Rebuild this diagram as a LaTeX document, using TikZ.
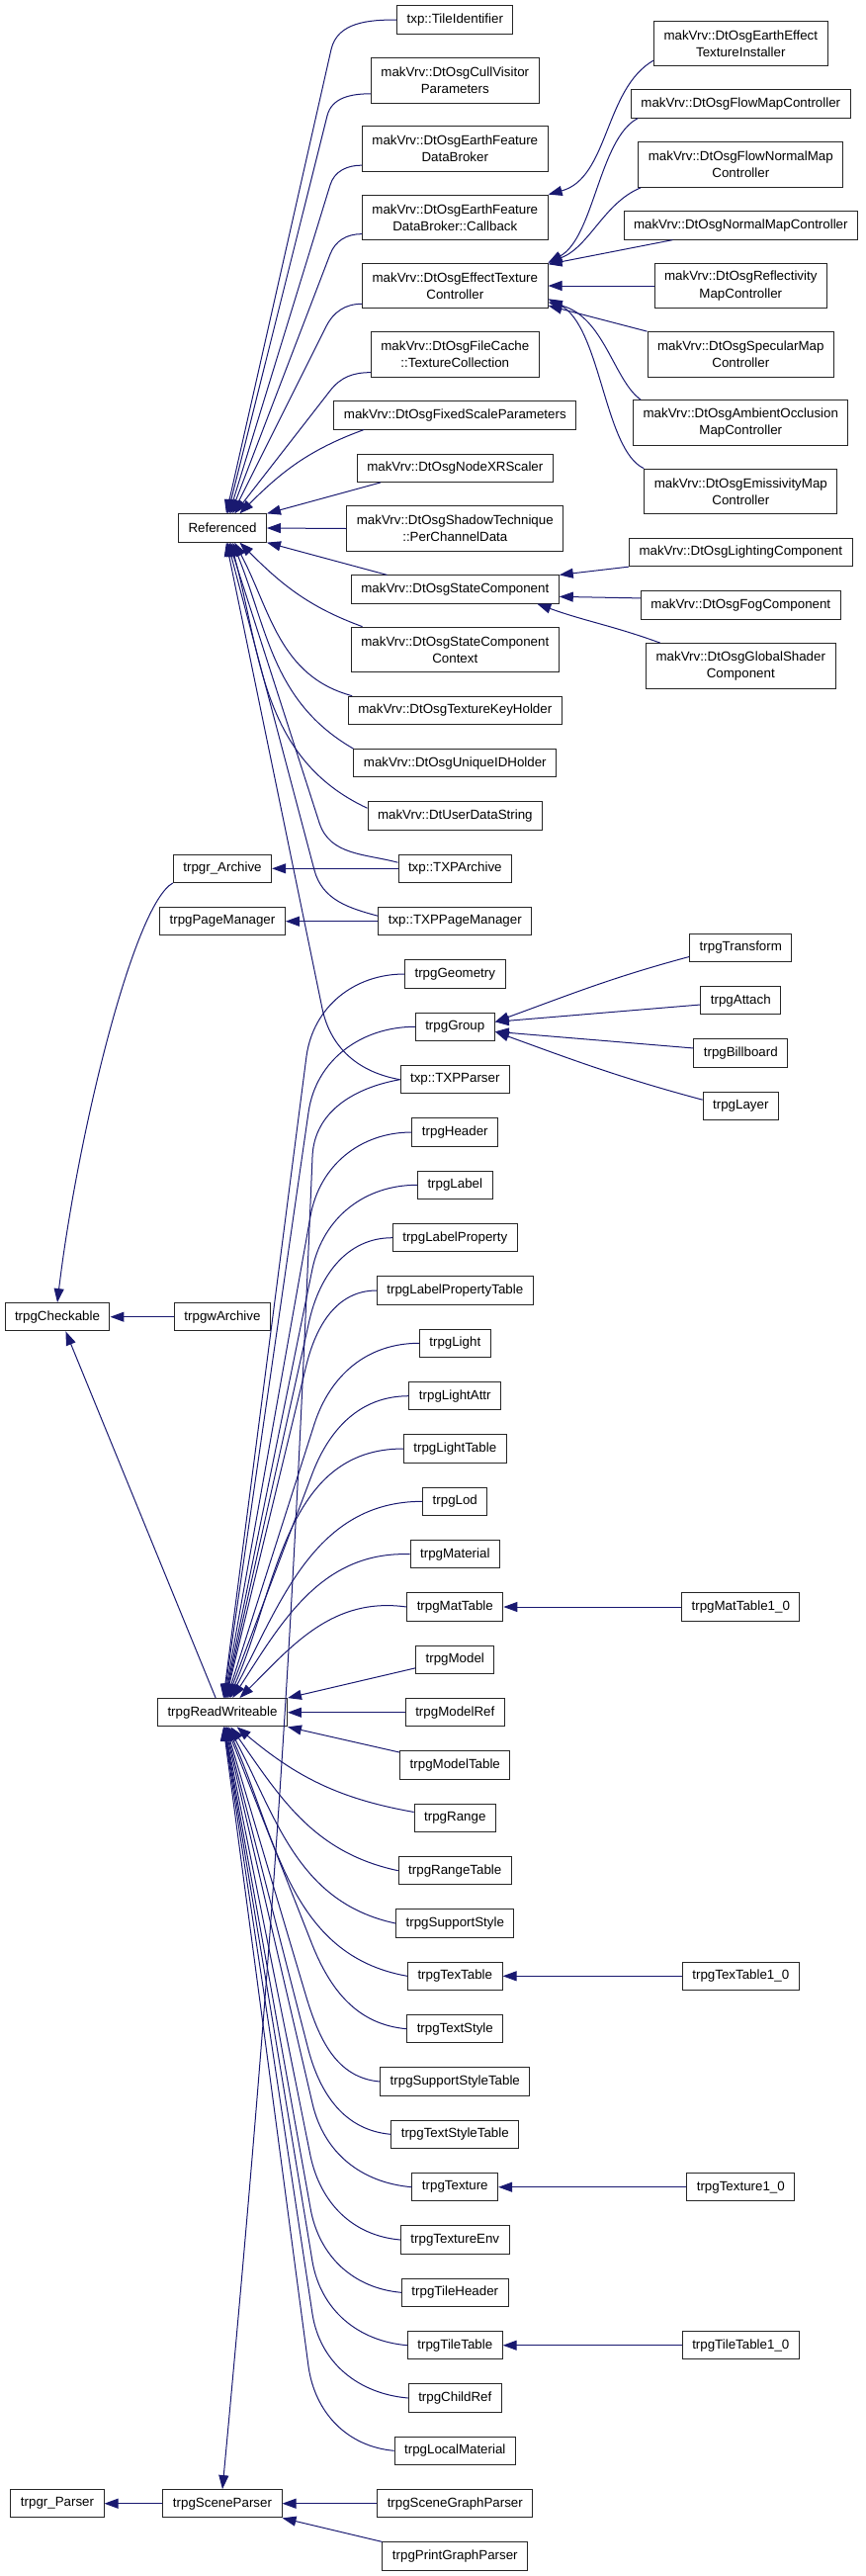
\documentclass[tikz,border=0pt]{standalone}
\usepackage{fontspec}
\setmainfont{Liberation Sans}
\usetikzlibrary{arrows.meta}
\definecolor{edgeblue}{RGB}{25,25,112}
\tikzstyle{classbox} = [rectangle, draw=black!85, line width=0.75pt, fill=white, minimum height=21.2pt, inner xsep=7.5pt, inner ysep=2pt, align=center, font=\fontsize{10}{13}\selectfont]
\tikzstyle{classbox2} = [classbox, minimum height=34.3pt]
\tikzstyle{inherit} = [draw=edgeblue, line width=0.75pt, -{Triangle[length=10.5pt, width=7.5pt]}]

\begin{document}
\begin{tikzpicture}[x=0.75pt, y=-0.75pt]
        \useasboundingbox (0,0) rectangle (875,2605);

        \node (checkable) [classbox] at (58,1331.7) {trpgCheckable};
        \node (rparser) [classbox] at (58,2531.7) {trpgr\_Parser};

        \node (referenced) [classbox] at (225,534) {Referenced};
        \node (rarchive) [classbox] at (225,878.3) {trpgr\_Archive};
        \node (pagemgr) [classbox] at (225,931.7) {trpgPageManager};
        \node (warchive) [classbox] at (225,1331.7) {trpgwArchive};
        \node (readwrite) [classbox] at (225,1731.7) {trpgReadWriteable};
        \node (sceneparser) [classbox] at (225,2531.7) {trpgSceneParser};

        \node (tileid) [classbox] at (460.3,20) {txp::TileIdentifier};
        \node (cullvis) [classbox2] at (460.3,81.3) {makVrv::DtOsgCullVisitor\\Parameters};
        \node (databroker) [classbox2] at (460.3,150.5) {makVrv::DtOsgEarthFeature\\DataBroker};
        \node (callback) [classbox2] at (460.3,220) {makVrv::DtOsgEarthFeature\\DataBroker::Callback};
        \node (effect) [classbox2] at (460.3,289) {makVrv::DtOsgEffectTexture\\Controller};
        \node (filecache) [classbox2] at (460.3,358.5) {makVrv::DtOsgFileCache\\::TextureCollection};
        \node (fixedscale) [classbox] at (460.3,420) {makVrv::DtOsgFixedScaleParameters};
        \node (nodexr) [classbox] at (460.3,473.3) {makVrv::DtOsgNodeXRScaler};
        \node (shadow) [classbox2] at (460.3,534.5) {makVrv::DtOsgShadowTechnique\\::PerChannelData};
        \node (statecomp) [classbox] at (460.3,596) {makVrv::DtOsgStateComponent};
        \node (statectx) [classbox2] at (460.3,657) {makVrv::DtOsgStateComponent\\Context};
        \node (texkey) [classbox] at (460.3,718.3) {makVrv::DtOsgTextureKeyHolder};
        \node (uniqueid) [classbox] at (460.3,771.7) {makVrv::DtOsgUniqueIDHolder};
        \node (userdata) [classbox] at (460.3,825) {makVrv::DtUserDataString};
        \node (txparchive) [classbox] at (460.3,878.3) {txp::TXPArchive};
        \node (txppagemgr) [classbox] at (460.3,931.7) {txp::TXPPageManager};
        \node (geometry) [classbox] at (460.3,985) {trpgGeometry};
        \node (group) [classbox] at (460.3,1038.3) {trpgGroup};
        \node (txpparser) [classbox] at (460.3,1091.7) {txp::TXPParser};
        \node (header) [classbox] at (460.3,1145) {trpgHeader};
        \node (label) [classbox] at (460.3,1198.3) {trpgLabel};
        \node (labelprop) [classbox] at (460.3,1251.7) {trpgLabelProperty};
        \node (labelproptab) [classbox] at (460.3,1305) {trpgLabelPropertyTable};
        \node (light) [classbox] at (460.3,1358.3) {trpgLight};
        \node (lightattr) [classbox] at (460.3,1411.7) {trpgLightAttr};
        \node (lighttab) [classbox] at (460.3,1465) {trpgLightTable};
        \node (lod) [classbox] at (460.3,1518.3) {trpgLod};
        \node (material) [classbox] at (460.3,1571.7) {trpgMaterial};
        \node (mattab) [classbox] at (460.3,1625) {trpgMatTable};
        \node (model) [classbox] at (460.3,1678.3) {trpgModel};
        \node (modelref) [classbox] at (460.3,1731.7) {trpgModelRef};
        \node (modeltab) [classbox] at (460.3,1785) {trpgModelTable};
        \node (range) [classbox] at (460.3,1838.3) {trpgRange};
        \node (rangetab) [classbox] at (460.3,1891.7) {trpgRangeTable};
        \node (supstyle) [classbox] at (460.3,1945) {trpgSupportStyle};
        \node (textab) [classbox] at (460.3,1998.3) {trpgTexTable};
        \node (textstyle) [classbox] at (460.3,2051.7) {trpgTextStyle};
        \node (supstyletab) [classbox] at (460.3,2105) {trpgSupportStyleTable};
        \node (textstyletab) [classbox] at (460.3,2158.3) {trpgTextStyleTable};
        \node (texture) [classbox] at (460.3,2211.7) {trpgTexture};
        \node (textureenv) [classbox] at (460.3,2265) {trpgTextureEnv};
        \node (tileheader) [classbox] at (460.3,2318.3) {trpgTileHeader};
        \node (tiletab) [classbox] at (460.3,2371.7) {trpgTileTable};
        \node (childref) [classbox] at (460.3,2425) {trpgChildRef};
        \node (localmat) [classbox] at (460.3,2478.3) {trpgLocalMaterial};
        \node (scenegraph) [classbox] at (460.3,2531.7) {trpgSceneGraphParser};
        \node (printgraph) [classbox] at (460.3,2585) {trpgPrintGraphParser};

        \node (installer) [classbox2] at (749.3,44) {makVrv::DtOsgEarthEffect\\TextureInstaller};
        \node (flowmap) [classbox] at (749.3,105) {makVrv::DtOsgFlowMapController};
        \node (flownormal) [classbox2] at (749.3,166.5) {makVrv::DtOsgFlowNormalMap\\Controller};
        \node (normalmap) [classbox] at (749.3,228) {makVrv::DtOsgNormalMapController};
        \node (reflect) [classbox2] at (749.3,289) {makVrv::DtOsgReflectivity\\MapController};
        \node (specular) [classbox2] at (749.3,358.5) {makVrv::DtOsgSpecularMap\\Controller};
        \node (ambient) [classbox2] at (749.3,427.5) {makVrv::DtOsgAmbientOcclusion\\MapController};
        \node (emissive) [classbox2] at (749.3,497) {makVrv::DtOsgEmissivityMap\\Controller};
        \node (lighting) [classbox] at (749.3,558.5) {makVrv::DtOsgLightingComponent};
        \node (fog) [classbox] at (749.3,612) {makVrv::DtOsgFogComponent};
        \node (globalshader) [classbox2] at (749.3,673.5) {makVrv::DtOsgGlobalShader\\Component};
        \node (transform) [classbox] at (749.3,958.3) {trpgTransform};
        \node (attach) [classbox] at (749.3,1011.7) {trpgAttach};
        \node (billboard) [classbox] at (749.3,1065) {trpgBillboard};
        \node (layer) [classbox] at (749.3,1118.3) {trpgLayer};
        \node (mattab10) [classbox] at (749.3,1625) {trpgMatTable1\_0};
        \node (textab10) [classbox] at (749.3,1998.3) {trpgTexTable1\_0};
        \node (texture10) [classbox] at (749.3,2211.7) {trpgTexture1\_0};
        \node (tiletab10) [classbox] at (749.3,2371.7) {trpgTileTable1\_0};

        \draw[inherit] (tileid.west) to[out=180,in=77] (335,50) -- (referenced.75);
        \draw[inherit] (cullvis.189) to[out=180,in=76] (331,117) -- (referenced.70);
        \draw[inherit] (databroker.190) to[out=180,in=73] (334,187) -- (referenced.65);
        \draw[inherit] (callback.190) to[out=180,in=69] (334,257) -- (referenced.60);
        \draw[inherit] (effect.191) to[out=180,in=63] (330,330) -- (referenced.55);
        \draw[inherit] (filecache.192) to[out=180,in=52] (334,395) -- (referenced.50);
        \draw[inherit] (fixedscale.189) to[out=200,in=45] (referenced.40);
        \draw[inherit] (nodexr.191) -- (referenced.north east);
        \draw[inherit] (shadow.west) -- (referenced.east);
        \draw[inherit] (statecomp.168) -- (referenced.south east);
        \draw[inherit] (statectx.166) to[out=160,in=-45] (referenced.-40);
        \draw[inherit] (texkey.172) to[out=165,in=-62] (referenced.-50);
        \draw[inherit] (uniqueid.north west) to[out=150,in=-68] (referenced.-55);
        \draw[inherit] (userdata.175) to[out=155,in=-75] (referenced.-60);
        \draw[inherit] (txparchive.174) to[out=165,in=-72] (323,832) -- (referenced.-65);
        \draw[inherit] (txppagemgr.176) to[out=165,in=-75] (318,880) -- (referenced.-70);
        \draw[inherit] (txpparser.west) to[out=170,in=-78] (326,1020) -- (referenced.-75);

        \draw[inherit] (installer.191) .. controls (611,90) and (616,180) .. (callback.north east);
        \draw[inherit] (flowmap.188) .. controls (606,140) and (601,240) .. (effect.north east);
        \draw[inherit] (flownormal.193) .. controls (611,205) and (596,250) .. (effect.north east);
        \draw[inherit] (normalmap.192) -- (effect.13);
        \draw[inherit] (reflect.west) -- (effect.east);
        \draw[inherit] (specular.north west) -- (effect.-12);
        \draw[inherit] (ambient.167) .. controls (621,385) and (611,320) .. (effect.-10);
        \draw[inherit] (emissive.north west) .. controls (611,455) and (608,330) .. (effect.-8);

        \draw[inherit] (lighting.south west) -- (statecomp.north east);
        \draw[inherit] (fog.176) -- (statecomp.-4);
        \draw[inherit] (globalshader.164) to[out=160,in=-20] (statecomp.-10);

        \draw[inherit] (txparchive.west) -- (rarchive.east);
        \draw[inherit] (txppagemgr.west) -- (pagemgr.east);
        \draw[inherit] (warchive.west) -- (checkable.east);
        \draw[inherit] (rarchive.south west) .. controls (135,915) and (78,1150) .. (checkable.north);
        \draw[inherit] (readwrite.115) -- (checkable.-60);

        \draw[inherit] (transform.190) to[out=195,in=20] (group.7);
        \draw[inherit] (attach.186) -- (group.7);
        \draw[inherit] (billboard.174) -- (group.-7);
        \draw[inherit] (layer.171) to[out=165,in=-20] (group.-7);

        \draw[inherit] (geometry.west) to[out=180,in=82] (310,1068) -- (readwrite.86);
        \draw[inherit] (group.west) to[out=180,in=82] (312,1125) -- (readwrite.84);
        \draw[inherit] (header.west) to[out=180,in=80] (314,1230) -- (readwrite.82);
        \draw[inherit] (label.west) to[out=180,in=78] (316,1283) -- (readwrite.80);
        \draw[inherit] (labelprop.west) to[out=180,in=77] (313,1335) -- (readwrite.78);
        \draw[inherit] (labelproptab.west) to[out=180,in=76] (310,1380) -- (readwrite.76);
        \draw[inherit] (light.west) to[out=180,in=72] (318,1440) -- (readwrite.73);
        \draw[inherit] (lightattr.west) to[out=180,in=69] (316,1490) -- (readwrite.70);
        \draw[inherit] (lighttab.west) to[out=180,in=66] (readwrite.66);
        \draw[inherit] (lod.west) to[out=180,in=62] (readwrite.62);
        \draw[inherit] (material.west) to[out=178,in=57] (readwrite.55);
        \draw[inherit] (mattab.west) to[out=172,in=45] (readwrite.40);
        \draw[inherit] (model.192) -- (readwrite.north east);
        \draw[inherit] (modelref.west) -- (readwrite.east);
        \draw[inherit] (modeltab.167) -- (readwrite.south east);
        \draw[inherit] (range.172) to[out=170,in=-40] (readwrite.-45);
        \draw[inherit] (rangetab.west) to[out=168,in=-55] (readwrite.-60);
        \draw[inherit] (supstyle.west) to[out=168,in=-62] (readwrite.-67);
        \draw[inherit] (textab.west) to[out=170,in=-66] (readwrite.-71);
        \draw[inherit] (textstyle.west) to[out=175,in=-68] (316,1967) -- (readwrite.-74);
        \draw[inherit] (supstyletab.west) to[out=175,in=-73] (310,2020) -- (readwrite.-76);
        \draw[inherit] (textstyletab.west) to[out=175,in=-75] (312,2073) -- (readwrite.-78);
        \draw[inherit] (texture.west) to[out=175,in=-77] (316,2127) -- (readwrite.-80);
        \draw[inherit] (textureenv.west) to[out=175,in=-78] (314,2180) -- (readwrite.-82);
        \draw[inherit] (tileheader.west) to[out=175,in=-80] (314,2233) -- (readwrite.-83);
        \draw[inherit] (tiletab.west) to[out=175,in=-80] (316,2287) -- (readwrite.-84);
        \draw[inherit] (childref.west) to[out=175,in=-81] (316,2340) -- (readwrite.-85);
        \draw[inherit] (localmat.west) to[out=175,in=-82] (312,2393) -- (readwrite.-86);

        \draw[inherit] (mattab10.west) -- (mattab.east);
        \draw[inherit] (textab10.west) -- (textab.east);
        \draw[inherit] (texture10.west) -- (texture.east);
        \draw[inherit] (tiletab10.west) -- (tiletab.east);

        \draw[inherit] (txpparser.west) to[out=190,in=88] (316,1170) .. controls (298,1600) and (283,1900) .. (sceneparser.north);
        \draw[inherit] (sceneparser.west) -- (rparser.east);
        \draw[inherit] (scenegraph.west) -- (sceneparser.east);
        \draw[inherit] (printgraph.north west) -- (sceneparser.south east);

    \end{tikzpicture}
\end{document}
